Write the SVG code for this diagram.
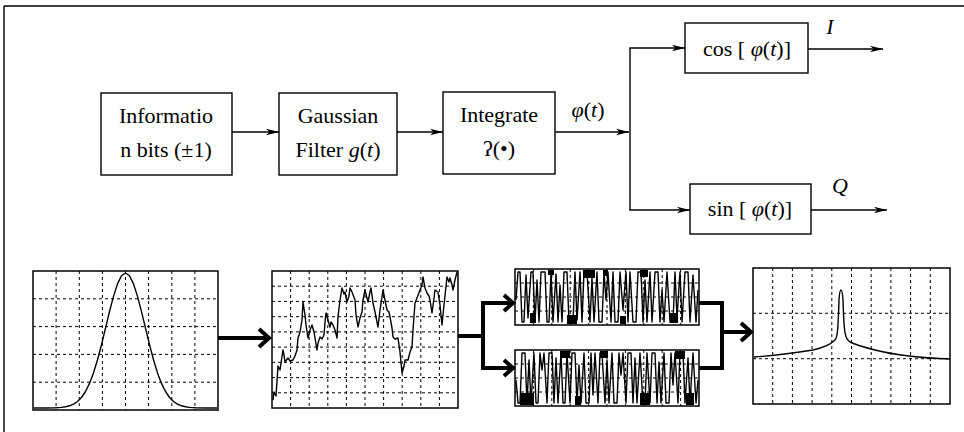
<svg xmlns="http://www.w3.org/2000/svg" width="964" height="432" viewBox="0 0 964 432">
<style>
.box{fill:#fff;stroke:#000;stroke-width:1.4}
.t{font-family:"Liberation Serif","DejaVu Serif",serif;font-size:22px;fill:#000;text-anchor:middle}
.i{font-style:italic}
.thin{fill:none;stroke:#000;stroke-width:1.4}
.thick{fill:none;stroke:#000;stroke-width:4;stroke-linejoin:miter}
.panel{fill:#fff;stroke:#000;stroke-width:1.5}
.grid{fill:none;stroke:#000;stroke-width:1;stroke-dasharray:3 3}
.sig{fill:none;stroke:#000;stroke-width:1.4;stroke-linejoin:round}
</style>
<defs>
<marker id="ah" viewBox="0 0 13 8" refX="13" refY="4" markerWidth="13" markerHeight="8" markerUnits="userSpaceOnUse" orient="auto">
<path d="M0,0.8 L13,4 L0,7.2 L3.5,4 z" fill="#000"/>
</marker>
</defs>
<rect width="964" height="432" fill="#fff"/>
<g id="frame">
<path d="M4,6 H964 M4,6 V432" class="thin" stroke-width="1"/>
</g>

<g id="node-info">
<rect class="box" x="101" y="93" width="131" height="82"/>
<text class="t" x="166" y="123">Informatio</text>
<text class="t" x="166" y="157">n bits (±1)</text>
</g>
<g id="node-gauss">
<rect class="box" x="279" y="93" width="118" height="82"/>
<text class="t" x="338" y="123">Gaussian</text>
<text class="t" x="338" y="157">Filter <tspan class="i">g</tspan>(<tspan class="i">t</tspan>)</text>
</g>
<g id="node-integrate">
<rect class="box" x="443" y="92" width="112" height="82"/>
<text class="t" x="499" y="122">Integrate</text>
<text class="t" x="499" y="156">ʔ(•)</text>
</g>
<g id="label-phi">
<text class="t" x="588" y="117"><tspan class="i">φ</tspan>(<tspan class="i">t</tspan>)</text>
</g>
<g id="node-cos">
<rect class="box" x="685" y="23" width="123" height="50"/>
<text class="t" x="747" y="56">cos [ <tspan class="i">φ</tspan>(<tspan class="i">t</tspan>)]</text>
</g>
<g id="node-sin">
<rect class="box" x="690" y="184" width="121" height="50"/>
<text class="t" x="750" y="216">sin [ <tspan class="i">φ</tspan>(<tspan class="i">t</tspan>)]</text>
</g>
<g id="label-I"><text class="t i" x="830" y="34">I</text></g>
<g id="label-Q"><text class="t i" x="840" y="193">Q</text></g>

<g id="panel-gauss">
<rect class="panel" x="33" y="271" width="185" height="139"/>
<path class="grid" d="M56.1,271V410M79.3,271V410M102.4,271V410M125.5,271V410M148.6,271V410M171.8,271V410M194.9,271V410M33,298.8H218M33,326.6H218M33,354.4H218M33,382.2H218"/>
<polyline class="sig" points="34,408 45.5,408 55.5,407.8 61.5,407.4 65.5,406.8 69.5,405.8 73.5,404.1 77.5,401.5 81.5,397.5 85.5,391.5 89.5,383.4 93.5,372.9 97.5,359.8 101.5,344.7 105.5,328.2 109.5,311.6 113.5,296.4 117.5,283.9 121.5,275.8 125.5,273 129.5,275.8 133.5,283.9 137.5,296.4 141.5,311.6 145.5,328.2 149.5,344.7 153.5,359.8 157.5,372.9 161.5,383.4 165.5,391.5 169.5,397.5 173.5,401.5 177.5,404.1 181.5,405.8 185.5,406.8 189.5,407.4 195.5,407.8 205.5,408 217,408"/>
</g>

<g id="panel-filtered">
<rect class="panel" x="272" y="271" width="186" height="137"/>
<path class="grid" d="M290.6,271V408M309.2,271V408M327.8,271V408M346.4,271V408M365,271V408M383.6,271V408M402.2,271V408M420.8,271V408M439.4,271V408M272,286.2H458M272,301.4H458M272,316.7H458M272,331.9H458M272,347.1H458M272,362.3H458M272,377.6H458M272,392.8H458"/>
<polyline class="sig" points="273,400 274,392 276,396 278,366 280,370 283,350 284,355 285,362 288,358 290,361 293,360 295,356 297,350 298,338 300,332 302,320 303,302 305,315 306,325 308,338 310,330 312,325 314,332 315,338 317,350 318,343 320,337 322,339 324,335 325,322 326,313 328,320 330,327 331,322 333,325 335,330 337,338 338,317 340,300 342,288 344,294 345,292 347,302 349,296 350,288 352,292 355,300 356,315 358,327 360,318 362,312 363,300 365,290 367,298 368,302 370,292 371,288 373,303 375,312 378,327 380,310 383,290 385,300 387,310 389,312 390,317 392,328 393,337 395,339 398,338 400,352 402,373 404,366 405,360 408,360 410,352 412,347 413,330 415,303 417,298 420,290 422,285 423,277 425,288 427,293 429,296 430,300 432,313 434,298 435,290 438,292 440,305 442,325 444,305 447,277 449,282 450,278 452,285 453,290 455,280 457,272"/>
</g>

<g id="panel-cos">
<rect class="panel" x="515" y="269" width="184" height="56"/>
<path class="grid" d="M533.4,269V325M551.8,269V325M570.2,269V325M588.6,269V325M607,269V325M625.4,269V325M643.8,269V325M662.2,269V325M680.6,269V325M515,283H699M515,297H699M515,311H699"/>
<g fill="#000">
<rect x="583" y="270" width="12" height="8"/><rect x="567" y="315" width="10" height="9"/><rect x="530" y="313" width="6" height="10"/><rect x="640" y="270" width="8" height="7"/><rect x="670" y="313" width="8" height="10"/><rect x="603" y="270" width="5" height="6"/><rect x="548" y="270" width="6" height="5"/><rect x="620" y="316" width="6" height="8"/>
</g>
<polyline class="sig" stroke-width="1.2" points="516,300 518,272 520,272 522,322 524,322 526,275 528,318 531,272 533,272 535,322 537,280 539,322 541,272 545,272 547,322 549,322 551,272 553,322 556,274 558,322 560,285 562,322 564,272 567,272 569,322 573,322 575,272 577,320 580,272 582,322 584,272 587,272 590,322 592,278 594,322 597,272 599,322 602,322 604,272 606,300 608,272 611,322 613,272 615,322 618,322 620,272 623,310 626,272 628,322 630,272 633,322 636,322 638,272 641,272 643,322 645,280 647,322 650,272 652,322 655,272 658,272 660,322 662,290 664,322 667,272 670,322 673,322 675,272 677,318 680,272 682,322 685,272 688,272 690,322 693,275 696,322 698,290"/>
</g>

<g id="panel-sin">
<rect class="panel" x="515" y="350" width="184" height="56"/>
<path class="grid" d="M533.4,350V406M551.8,350V406M570.2,350V406M588.6,350V406M607,350V406M625.4,350V406M643.8,350V406M662.2,350V406M680.6,350V406M515,364H699M515,378H699M515,392H699"/>
<g fill="#000">
<rect x="520" y="393" width="14" height="12"/><rect x="560" y="351" width="10" height="7"/><rect x="600" y="351" width="8" height="7"/><rect x="640" y="393" width="10" height="12"/><rect x="675" y="351" width="10" height="8"/><rect x="686" y="393" width="8" height="12"/><rect x="575" y="396" width="6" height="9"/>
</g>
<polyline class="sig" stroke-width="1.2" points="516,380 518,403 520,403 522,353 525,353 527,403 529,360 531,403 534,353 536,403 538,403 540,353 542,370 544,353 547,403 549,353 552,353 554,403 556,358 558,403 561,353 563,403 565,403 567,353 570,403 572,353 575,353 577,403 579,365 581,403 584,353 586,403 589,403 591,353 593,395 595,353 598,403 600,353 602,353 605,403 607,360 609,403 612,353 614,403 617,403 619,353 621,375 623,353 626,403 628,353 631,353 633,403 635,358 637,403 640,353 643,403 645,403 647,353 650,403 652,353 655,353 657,403 659,362 661,403 664,353 666,403 669,403 671,353 673,385 675,353 678,403 680,353 683,353 685,403 688,358 690,403 693,353 696,403 698,380"/>
</g>

<g id="panel-spectrum">
<rect class="panel" x="753" y="268" width="197" height="136"/>
<path class="grid" d="M772.7,268V404M792.4,268V404M812.1,268V404M831.8,268V404M851.5,268V404M871.2,268V404M890.9,268V404M910.6,268V404M930.3,268V404M753,313.3H950M753,358.7H950"/>
<path class="sig" stroke-width="2.4" d="M754,357 C780,355 800,352 813,350 C822,348 830,345 835,340 C837,338 838,334 839,300 C839.5,292 840,290 841,290 C842,290 842.5,293 843,300 C844,334 845,339 850,342 C856,345 863,347 875,350 C895,355 920,358 950,359"/>
</g>

<g id="connectors">
<path class="thin" d="M232,132 H279" marker-end="url(#ah)"/>
<path class="thin" d="M397,132 H443" marker-end="url(#ah)"/>
<path class="thin" d="M555,132 H629" marker-end="url(#ah)"/>
<path class="thin" d="M630,48 V210"/>
<path class="thin" d="M629.3,48 H685" marker-end="url(#ah)"/>
<path class="thin" d="M629.3,210 H690" marker-end="url(#ah)"/>
<path class="thin" d="M808,49 H883" marker-end="url(#ah)"/>
<path class="thin" d="M811,210 H887" marker-end="url(#ah)"/>
<path class="thick" d="M218,338 H268"/>
<path class="thick" d="M259,329 L269,338 L259,347"/>
<path class="thick" d="M458,336 H483 M483,301 V370 M481,303 H512 M481,368 H512"/>
<path class="thick" d="M504,295 L513,303 L504,311 M504,360 L513,368 L504,376"/>
<path class="thick" d="M699,303 H722 V368 H699"/>
<path class="thick" d="M722,332 H750"/>
<path class="thick" d="M741,323 L751,332 L741,341"/>
</g>
</svg>
